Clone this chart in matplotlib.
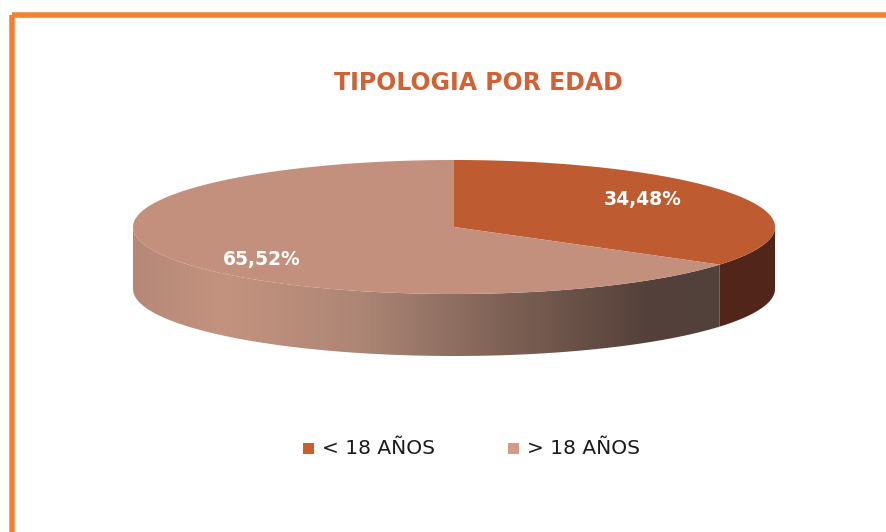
import numpy as np
import matplotlib.pyplot as plt
from matplotlib.patches import Polygon, Rectangle
from matplotlib.colors import LinearSegmentedColormap

# datos del grafico
categorias = ['< 18 AÑOS', '> 18 AÑOS']
porcentajes = [34.48, 65.52]
etiquetas = ['34,48%', '65,52%']
colores_top = ['#BE5B30', '#C3907E']
colores_leyenda = ['#C9602F', '#D49A86']
titulo = 'TIPOLOGIA POR EDAD'

W, H = 887, 532
fig = plt.figure(figsize=(W / 100, H / 100), dpi=100)
ax = fig.add_axes([0, 0, 1, 1])
ax.set_xlim(0, W)
ax.set_ylim(H, 0)
ax.axis('off')

# marco naranja (se corta a la derecha y abajo)
ax.add_patch(Rectangle((12, 15), W + 20, H + 20, fill=False,
                       edgecolor='#F08232', linewidth=4))

# geometria del pastel 3D
cx, cy = 454, 227
a, b = 321, 67
prof = 62


def arco(t1, t2, n=200):
    t = np.radians(np.linspace(t1, t2, n))
    return cx + a * np.cos(t), cy - b * np.sin(t)


# angulos: empieza a las 12 y va en sentido horario
fracs = np.array(porcentajes) / sum(porcentajes)
inicio = 90.0
limites = [inicio]
for f in fracs:
    limites.append(limites[-1] - f * 360)

# lados visibles (mitad frontal, angulos entre -180 y 0)
for i in range(len(fracs)):
    t1 = min(limites[i], 0)
    t2 = max(limites[i + 1], -180)
    if t1 <= t2:
        continue
    xs, ys = arco(t1, t2)
    verts = list(zip(xs, ys)) + list(zip(xs[::-1], ys[::-1] + prof))
    poly = Polygon(verts, closed=True, facecolor='none', edgecolor='none')
    ax.add_patch(poly)
    if i == 0:
        poly.set_facecolor('#52251A')
    else:
        cmap = LinearSegmentedColormap.from_list('lado', [
            (0.0, '#B58878'), (0.15, '#C4937F'), (0.38, '#AE8675'),
            (0.51, '#957466'), (0.63, '#7F6256'), (0.76, '#685046'),
            (0.88, '#54403A'), (1.0, '#52403A')])
        grad = np.linspace(0, 1, 256)[None, :]
        im = ax.imshow(grad, cmap=cmap, aspect='auto',
                       extent=(xs.min(), xs.max(), ys.max() + prof, ys.min()),
                       zorder=1)
        im.set_clip_path(poly)

# tapa superior
for i in range(len(fracs)):
    xs, ys = arco(limites[i], limites[i + 1])
    verts = [(cx, cy)] + list(zip(xs, ys))
    ax.add_patch(Polygon(verts, closed=True, facecolor=colores_top[i],
                         edgecolor='none', zorder=2))

# etiquetas de datos
pos_etiquetas = [(643, 200), (262, 260)]
for (x, y), txt in zip(pos_etiquetas, etiquetas):
    ax.text(x, y, txt, color='white', fontsize=13.5, fontweight='bold',
            family='DejaVu Sans', ha='center', va='center', zorder=3)

# titulo
ax.text(478, 83, titulo, color='#CF6236', fontsize=17, fontweight='bold',
        family='DejaVu Sans', ha='center', va='center')

# leyenda
pos_ley = [303, 508]
for x, col, cat in zip(pos_ley, colores_leyenda, categorias):
    ax.add_patch(Rectangle((x, 443), 11, 11, facecolor=col, edgecolor='none'))
    ax.text(x + 19, 449, cat, color='#1A1A1A', fontsize=14.5,
            family='DejaVu Sans', ha='left', va='center')

fig.savefig('out.png', dpi=100)
